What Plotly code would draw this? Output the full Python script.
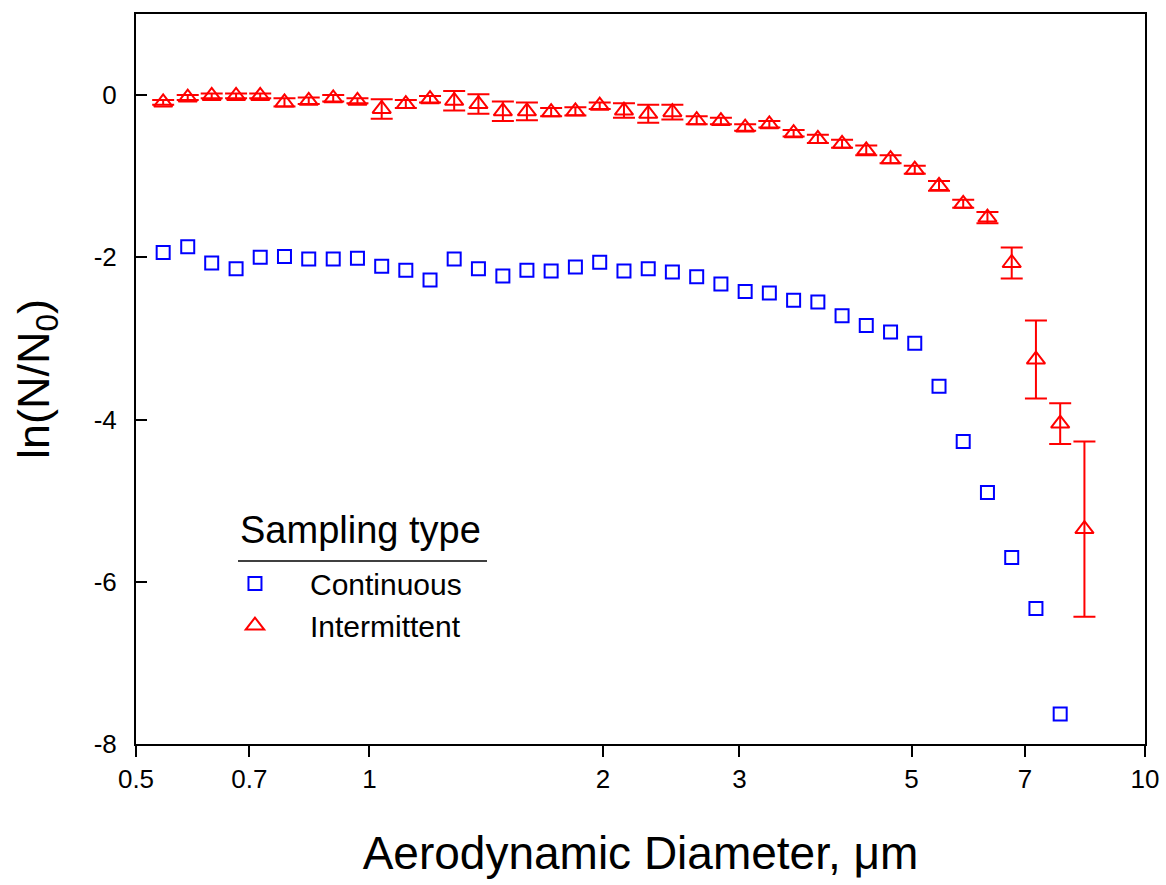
import plotly.graph_objects as go

# Aerodynamic diameter channel midpoints (um)
diam = [0.542, 0.583, 0.626, 0.673, 0.723, 0.777, 0.835, 0.898, 0.965, 1.037,
        1.114, 1.197, 1.286, 1.382, 1.486, 1.596, 1.715, 1.843, 1.981, 2.129,
        2.288, 2.458, 2.642, 2.839, 3.051, 3.278, 3.523, 3.786, 4.068, 4.371,
        4.698, 5.048, 5.425, 5.829, 6.264, 6.732, 7.234, 7.774, 8.354]

continuous = [-1.94, -1.87, -2.07, -2.14, -2.00, -1.99, -2.02, -2.02, -2.01, -2.11,
              -2.16, -2.28, -2.02, -2.14, -2.23, -2.16, -2.17, -2.12, -2.06, -2.17,
              -2.14, -2.18, -2.24, -2.33, -2.42, -2.44, -2.53, -2.55, -2.72, -2.84,
              -2.92, -3.06, -3.59, -4.27, -4.90, -5.70, -6.33, -7.63]

intermittent = [-0.09, -0.03, -0.01, -0.01, -0.01, -0.09, -0.07, -0.04, -0.07, -0.17,
                -0.11, -0.05, -0.07, -0.11, -0.20, -0.20, -0.21, -0.20, -0.13, -0.19,
                -0.23, -0.21, -0.31, -0.32, -0.40, -0.36, -0.47, -0.54, -0.60, -0.68,
                -0.79, -0.92, -1.12, -1.34, -1.51, -2.07, -3.26, -4.05, -5.35]

intermittent_err = [0.03, 0.03, 0.03, 0.03, 0.03, 0.05, 0.04, 0.04, 0.03, 0.12,
                    0.05, 0.04, 0.12, 0.12, 0.12, 0.11, 0.05, 0.05, 0.04, 0.09,
                    0.11, 0.09, 0.05, 0.04, 0.04, 0.04, 0.04, 0.05, 0.05, 0.06,
                    0.05, 0.05, 0.06, 0.05, 0.07, 0.19, 0.48, 0.25, 1.08]

x_tickvals = [0.5, 0.7, 1, 2, 3, 5, 7, 10]
x_ticktext = ["0.5", "0.7", "1", "2", "3", "5", "7", "10"]
y_tickvals = [-8, -6, -4, -2, 0]
y_ticktext = ["-8", "-6", "-4", "-2", "0"]

legend_title = "Sampling type"

FONT = "Liberation Sans, Arial, sans-serif"

fig = go.Figure()
fig.add_trace(go.Scatter(
    x=diam[:len(continuous)], y=continuous, mode="markers",
    name="Continuous",
    marker=dict(symbol="square-open", size=13, color="#0000FF",
                line=dict(width=2, color="#0000FF")),
))
fig.add_trace(go.Scatter(
    x=diam[:len(intermittent)], y=intermittent, mode="markers",
    name="Intermittent",
    marker=dict(symbol="triangle-up-open", size=16, color="#FF0000",
                line=dict(width=2, color="#FF0000")),
    error_y=dict(type="data", array=intermittent_err, visible=True,
                 color="#FF0000", thickness=2, width=11),
))

fig.update_layout(
    width=1166, height=885,
    margin=dict(l=136, r=21, t=14, b=141, autoexpand=False),
    paper_bgcolor="white", plot_bgcolor="white",
    font=dict(family=FONT, color="black"),
    showlegend=True,
    legend=dict(
        x=0.0634, y=0.2554, xanchor="left", yanchor="top",
        bgcolor="rgba(0,0,0,0)",
        font=dict(size=30, family=FONT),
        itemwidth=100,
        tracegroupgap=0,
    ),
    xaxis=dict(
        type="log", range=[-0.30103, 1.0],
        tickvals=x_tickvals, ticktext=x_ticktext,
        ticks="outside", ticklen=11, tickwidth=2, tickcolor="black",
        showline=True, linecolor="black", linewidth=2, mirror=True,
        showgrid=False, zeroline=False,
        tickfont=dict(size=26, family=FONT),
        title=dict(text="Aerodynamic Diameter, \u03bcm",
                   font=dict(size=46, family=FONT), standoff=44),
        automargin=False,
    ),
    yaxis=dict(
        range=[-8, 1],
        tickvals=y_tickvals, ticktext=y_ticktext,
        ticks="inside", ticklen=11, tickwidth=2, tickcolor="black",
        showline=True, linecolor="black", linewidth=2, mirror=True,
        showgrid=False, zeroline=False,
        tickfont=dict(size=26, family=FONT),
        ticklabelstandoff=12,
        title=dict(text="ln(N/N<sub>0</sub>)",
                   font=dict(size=45, family=FONT), standoff=30),
        automargin=False,
    ),
    annotations=[dict(text=legend_title, xref="paper", yref="paper",
                      x=0.1011, y=0.2932, xanchor="left", yanchor="middle",
                      showarrow=False, font=dict(size=38, family=FONT))],
    shapes=[dict(type="line", xref="paper", yref="paper",
                 x0=0.1011, x1=0.3479, y0=0.2507, y1=0.2507,
                 line=dict(color="black", width=1.5))],
)

fig.write_html("out.html")
